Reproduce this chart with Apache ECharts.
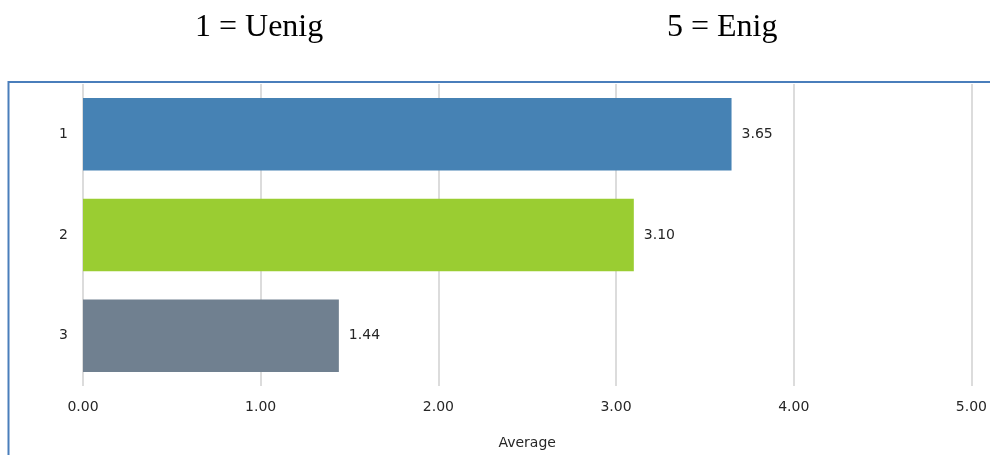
<!DOCTYPE html>
<html>
<head>
<meta charset="utf-8">
<script src="https://cdn.jsdelivr.net/npm/echarts@6/dist/echarts.min.js"></script>
<style>
  html, body { margin: 0; padding: 0; background: #fff; }
  #chart { width: 990px; height: 455px; }
</style>
</head>
<body>
<div id="chart"></div>
<script>
// Data
const categories = ['1', '2', '3'];
const averages = [3.65, 3.10, 1.44];
const barColors = ['#4682B4', '#9ACD32', '#708090'];
const xTicks = [0, 1, 2, 3, 4, 5];

const chart = echarts.init(document.getElementById('chart'));

const headerStyle = { fontFamily: 'Liberation Serif', fontSize: 32, fontWeight: 'normal', color: '#000' };

const option = {
  animation: false,
  title: [
    { text: '1 = Uenig', left: 195, top: 12, padding: 0, textStyle: headerStyle },
    { text: '5 = Enig', left: 667, top: 12, padding: 0, textStyle: headerStyle }
  ],
  // outer frame around the plot
  graphic: [
    {
      type: 'rect',
      shape: { x: 8.5, y: 82, width: 1000, height: 400 },
      style: { fill: 'none', stroke: '#4a7ebb', lineWidth: 2 },
      silent: true
    }
  ],
  grid: { left: 83, right: 17, top: 84, bottom: 68 },
  xAxis: {
    type: 'value',
    min: xTicks[0],
    max: xTicks[xTicks.length - 1],
    interval: 1,
    name: 'Average',
    nameLocation: 'middle',
    nameGap: 50,
    nameTextStyle: { fontFamily: 'DejaVu Sans', fontSize: 14, color: '#262626' },
    axisLine: { show: false },
    axisTick: { show: false },
    axisLabel: {
      margin: 14,
      fontFamily: 'DejaVu Sans', fontSize: 14, color: '#262626',
      formatter: v => v.toFixed(2)
    },
    splitLine: { show: true, lineStyle: { color: '#dcdcdc', width: 2 } }
  },
  yAxis: {
    type: 'category',
    data: categories,
    inverse: true,
    axisLine: { show: false },
    axisTick: { show: false },
    axisLabel: { margin: 15, fontFamily: 'DejaVu Sans', fontSize: 14, color: '#262626' }
  },
  series: [
    {
      type: 'bar',
      barWidth: '72%',
      data: averages.map((v, i) => ({ value: v, itemStyle: { color: barColors[i] } })),
      label: {
        show: true,
        position: 'right',
        distance: 10,
        fontFamily: 'DejaVu Sans', fontSize: 14, color: '#262626',
        formatter: p => p.value.toFixed(2)
      }
    }
  ]
};

chart.setOption(option);
</script>
</body>
</html>
